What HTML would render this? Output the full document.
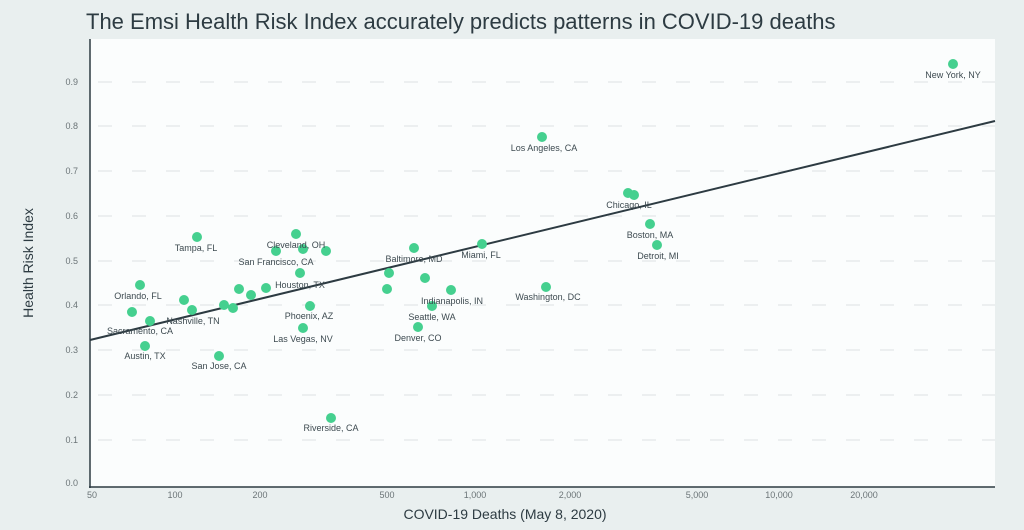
<!DOCTYPE html>
<html><head><meta charset="utf-8"><style>
html,body{margin:0;padding:0;background:#e9efef;}
svg{display:block;font-family:"Liberation Sans",sans-serif;}
</style></head><body>
<svg width="1024" height="530" viewBox="0 0 1024 530">
<rect width="1024" height="530" fill="#e9efef"/>
<text x="86" y="29" font-size="22" fill="#2d3b42">The Emsi Health Risk Index accurately predicts patterns in COVID-19 deaths</text>
<rect x="90" y="39" width="905" height="448" fill="#fbfdfd"/>
<g stroke="#e3e7e8" stroke-width="1.2" stroke-dasharray="14,20">
<line x1="98" x2="995" y1="82" y2="82"/><line x1="98" x2="995" y1="126" y2="126"/>
<line x1="98" x2="995" y1="171" y2="171"/><line x1="98" x2="995" y1="216" y2="216"/>
<line x1="98" x2="995" y1="261" y2="261"/><line x1="98" x2="995" y1="305" y2="305"/>
<line x1="98" x2="995" y1="350" y2="350"/><line x1="98" x2="995" y1="395" y2="395"/>
<line x1="98" x2="995" y1="440" y2="440"/>
</g>
<g font-size="9" fill="#6b7477" text-anchor="end">
<text x="78" y="85">0.9</text><text x="78" y="129">0.8</text><text x="78" y="174">0.7</text>
<text x="78" y="219">0.6</text><text x="78" y="264">0.5</text><text x="78" y="308">0.4</text>
<text x="78" y="353">0.3</text><text x="78" y="398">0.2</text><text x="78" y="443">0.1</text>
<text x="78" y="486">0.0</text>
</g>
<g font-size="9" fill="#6b7477" text-anchor="middle">
<text x="92" y="498">50</text><text x="175" y="498">100</text><text x="260" y="498">200</text>
<text x="387" y="498">500</text><text x="475" y="498">1,000</text><text x="570" y="498">2,000</text>
<text x="697" y="498">5,000</text><text x="779" y="498">10,000</text><text x="864" y="498">20,000</text>
</g>
<line x1="90" y1="39" x2="90" y2="488" stroke="#2d3b42" stroke-width="1.5"/>
<line x1="89" y1="487" x2="995" y2="487" stroke="#2d3b42" stroke-width="1.5"/>
<text x="505" y="519" font-size="14" fill="#2d3b42" text-anchor="middle">COVID-19 Deaths (May 8, 2020)</text>
<text transform="translate(33,263) rotate(-90)" font-size="14" fill="#2d3b42" text-anchor="middle">Health Risk Index</text>
<line x1="90" y1="340" x2="995" y2="121" stroke="#2d3b42" stroke-width="2"/>
<g fill="#45d08f">
<circle cx="953" cy="64" r="5"/><circle cx="542" cy="137" r="5"/><circle cx="628" cy="193" r="5"/>
<circle cx="634" cy="195" r="5"/><circle cx="650" cy="224" r="5"/><circle cx="657" cy="245" r="5"/>
<circle cx="482" cy="244" r="5"/><circle cx="414" cy="248" r="5"/><circle cx="389" cy="273" r="5"/>
<circle cx="425" cy="278" r="5"/><circle cx="387" cy="289" r="5"/><circle cx="451" cy="290" r="5"/>
<circle cx="432" cy="306" r="5"/><circle cx="418" cy="327" r="5"/><circle cx="546" cy="287" r="5"/>
<circle cx="197" cy="237" r="5"/><circle cx="296" cy="234" r="5"/><circle cx="276" cy="251" r="5"/>
<circle cx="303" cy="249" r="5"/><circle cx="326" cy="251" r="5"/><circle cx="300" cy="273" r="5"/>
<circle cx="140" cy="285" r="5"/><circle cx="132" cy="312" r="5"/><circle cx="150" cy="321" r="5"/>
<circle cx="184" cy="300" r="5"/><circle cx="192" cy="310" r="5"/><circle cx="224" cy="305" r="5"/>
<circle cx="233" cy="308" r="5"/><circle cx="239" cy="289" r="5"/><circle cx="251" cy="295" r="5"/>
<circle cx="266" cy="288" r="5"/><circle cx="310" cy="306" r="5"/><circle cx="303" cy="328" r="5"/>
<circle cx="145" cy="346" r="5"/><circle cx="219" cy="356" r="5"/><circle cx="331" cy="418" r="5"/>
</g>
<g font-size="9" fill="#3d4a50" text-anchor="middle">
<text x="953" y="78">New York, NY</text><text x="544" y="151">Los Angeles, CA</text>
<text x="629" y="208">Chicago, IL</text><text x="650" y="238">Boston, MA</text>
<text x="658" y="259">Detroit, MI</text><text x="481" y="258">Miami, FL</text>
<text x="414" y="262">Baltimore, MD</text><text x="452" y="304">Indianapolis, IN</text>
<text x="432" y="320">Seattle, WA</text><text x="418" y="341">Denver, CO</text>
<text x="548" y="300">Washington, DC</text><text x="196" y="251">Tampa, FL</text>
<text x="296" y="248">Cleveland, OH</text><text x="276" y="265">San Francisco, CA</text>
<text x="300" y="288">Houston, TX</text><text x="138" y="299">Orlando, FL</text>
<text x="140" y="334">Sacramento, CA</text><text x="193" y="324">Nashville, TN</text>
<text x="309" y="319">Phoenix, AZ</text><text x="303" y="342">Las Vegas, NV</text>
<text x="145" y="359">Austin, TX</text><text x="219" y="369">San Jose, CA</text>
<text x="331" y="431">Riverside, CA</text>
</g>
</svg>
</body></html>
